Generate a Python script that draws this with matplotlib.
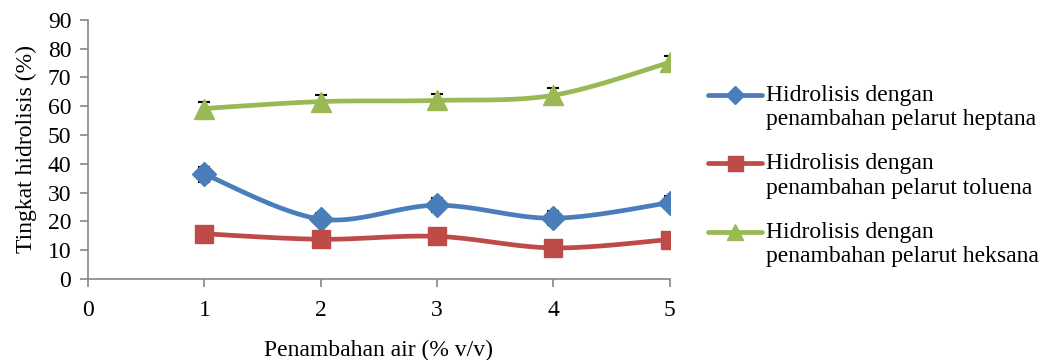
import numpy as np
import matplotlib.pyplot as plt
from matplotlib.lines import Line2D

plt.rcParams['font.family'] = ['Liberation Serif', 'DejaVu Serif']

air = [1, 2, 3, 4, 5]
heptana = [36.4, 20.8, 25.6, 21.1, 26.5]
toluena = [15.7, 13.8, 14.8, 10.8, 13.7]
heksana = [59.2, 61.6, 62.0, 63.8, 75.2]
err_heptana = [2.6, 2.0, 2.4, 2.5, 2.2]
err_toluena = [1.2, 1.0, 1.0, 1.0, 1.0]
err_heksana = [2.3, 2.4, 2.3, 2.6, 2.3]
labels = ['Hidrolisis dengan\npenambahan pelarut heptana',
          'Hidrolisis dengan\npenambahan pelarut toluena',
          'Hidrolisis dengan\npenambahan pelarut heksana']


def smooth(x, y, n=30):
    # Catmull-Rom style curve through the points
    x = np.asarray(x, float)
    y = np.asarray(y, float)
    px = np.concatenate([[x[0]], x, [x[-1]]])
    py = np.concatenate([[y[0]], y, [y[-1]]])
    xs, ys = [], []
    t = np.linspace(0, 1, n)
    for i in range(1, len(px) - 2):
        p0, p1, p2, p3 = [np.array([px[j], py[j]]) for j in range(i - 1, i + 3)]
        c1 = p1 + (p2 - p0) / 6
        c2 = p2 - (p3 - p1) / 6
        for tt in t:
            pt = ((1 - tt) ** 3 * p1 + 3 * (1 - tt) ** 2 * tt * c1
                  + 3 * (1 - tt) * tt ** 2 * c2 + tt ** 3 * p2)
            xs.append(pt[0])
            ys.append(pt[1])
    return xs, ys


fig = plt.figure(figsize=(10.48, 3.6), dpi=100)
ax = fig.add_axes([0.084, 0.225, 0.555, 0.72])

series = [
    (heptana, err_heptana, '#4A7EBB', 'D', 12),
    (toluena, err_toluena, '#BE4B48', 's', 13.5),
    (heksana, err_heksana, '#98B954', '^', 14),
]
for vals, err, col, mk, ms in series:
    sx, sy = smooth(air, vals)
    ax.plot(sx, sy, color=col, lw=3.4, solid_capstyle='round', zorder=2)
    ax.errorbar(air, vals, yerr=err, fmt='none', ecolor='black', elinewidth=1,
                capsize=4, capthick=1.5, zorder=3)
    ax.plot(air, vals, linestyle='none', marker=mk, ms=ms, color=col, zorder=4)

ax.set_xlim(0, 5)
ax.set_ylim(0, 90)
ax.set_xticks(range(0, 6))
ax.set_yticks(range(0, 91, 10))
for s in ['top', 'right']:
    ax.spines[s].set_visible(False)
for s in ['left', 'bottom']:
    ax.spines[s].set_color('#868686')
    ax.spines[s].set_linewidth(1.2)
ax.tick_params(axis='both', direction='out', color='#868686', width=1.2,
               length=6, labelsize=17, pad=6)
ax.tick_params(axis='x', pad=9)
ax.set_ylabel('Tingkat hidrolisis (%)', fontsize=17, labelpad=8)
ax.set_xlabel('Penambahan air (% v/v)', fontsize=17, labelpad=14)

# legend drawn by hand so the key sits on the first text line
for i, ((vals, err, col, mk, ms), lab) in enumerate(zip(series, labels)):
    y = 0.736 - i * 0.19
    fig.add_artist(Line2D([0.676, 0.727], [y, y], transform=fig.transFigure,
                          color=col, lw=3.4, solid_capstyle='round'))
    fig.add_artist(Line2D([0.7015], [y], transform=fig.transFigure,
                          color=col, marker=mk, ms=ms * 0.8))
    fig.text(0.731, y + 0.028, lab, fontsize=17, va='top', ha='left',
             linespacing=1.2)

fig.savefig('out.png', dpi=100)
